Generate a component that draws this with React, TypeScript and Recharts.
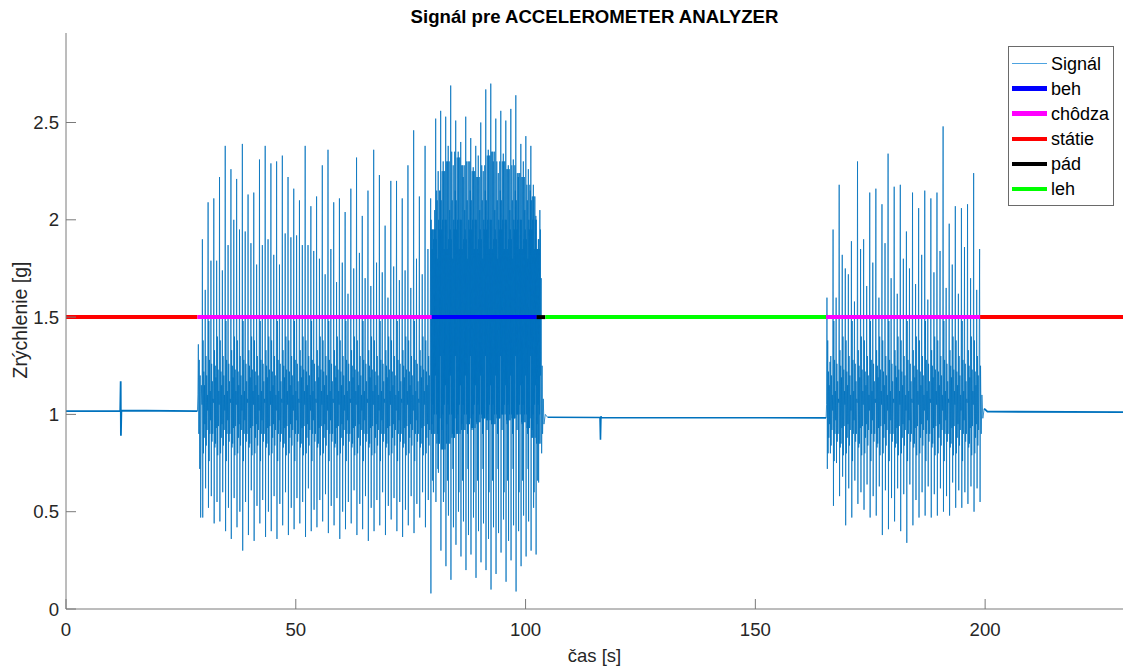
import React from "react";
import { LineChart, Line, XAxis, YAxis } from "recharts";

// ── Style ─────────────────────────────────────────────────────────────────────

const FONT = '"Liberation Sans", Arial, Helvetica, sans-serif';
const AXIS = "#7a7a7a";
const TEXT = "#262626";
const SIG = "#0072BD";

// ── Axes ──────────────────────────────────────────────────────────────────────

const X_TICKS = [0, 50, 100, 150, 200];
const Y_TICKS = [0, 0.5, 1, 1.5, 2, 2.5];
const X_MAX = 230;
const Y_MAX = 2.96;

// ── Signal ────────────────────────────────────────────────────────────────────

// quiet stretches and transitions, [time s, acceleration g]
const QUIET_START = [[0, 1.017], [11.8, 1.017], [11.9, 1.17], [11.95, 0.89], [12.05, 1.02], [28.6, 1.017]];
const WALK1_LEAD = [[28.6, 1.017], [28.7, 1.1], [28.8, 1.36], [28.9, 0.9], [29.0, 1.28], [29.1, 0.72], [29.2, 1.2], [29.3, 0.47], [29.45, 1.15]];
const RUN_DECAY = [[103.4, 1.7], [103.5, 0.8], [103.6, 1.25], [103.7, 0.9], [103.85, 1.08], [104.0, 0.95], [104.3, 1.0], [104.8, 0.985]];
const QUIET_MID = [[104.8, 0.985], [116.2, 0.984], [116.3, 0.87], [116.4, 0.99], [116.5, 0.984], [165.4, 0.982]];
const WALK2_LEAD = [[165.4, 0.982], [165.5, 1.05]];
const WALK2_DECAY = [[198.8, 1.85], [198.9, 0.55], [199.0, 1.25], [199.15, 0.9], [199.3, 1.1], [199.5, 0.98], [199.8, 1.03]];
const QUIET_END = [[199.8, 1.03], [200.5, 1.014], [230, 1.012]];

// first walk: one stride = big step + small step
const WALK1_START = 29.6;
const WALK1_STRIDE = 1.2425;
const WALK1_PEAK = [
  1.9, 2.09, 2.11, 2.22, 2.38, 2.26, 2.21, 2.39, 2.13, 2.14,
  2.31, 2.38, 2.29, 2.3, 2.33, 2.22, 2.16, 2.1, 2.38, 2.07,
  2.12, 2.28, 2.36, 2.09, 2.11, 2.04, 2.16, 2.32, 2.02, 2.15,
  2.36, 2.23, 1.97, 2.2, 2.2, 2.11, 2.28, 2.46, 2.12, 2.38,
];
const WALK1_PEAK2 = [
  1.64, 1.79, 1.79, 1.74, 1.87, 2.0, 1.95, 1.94, 1.88, 1.77,
  1.87, 1.9, 1.82, 1.77, 1.93, 1.91, 1.92, 1.87, 1.87, 1.84,
  1.8, 1.72, 1.85, 1.68, 1.78, 1.62, 1.75, 1.83, 1.7, 1.66,
  1.78, 1.73, 1.6, 1.76, 1.69, 1.74, 1.65, 1.8, 1.72, 1.85,
];
const WALK1_DIP = [
  0.47, 0.52, 0.44, 0.45, 0.4, 0.36, 0.42, 0.3, 0.38, 0.35,
  0.44, 0.37, 0.4, 0.36, 0.43, 0.38, 0.41, 0.44, 0.37, 0.4,
  0.42, 0.45, 0.39, 0.43, 0.36, 0.41, 0.44, 0.38, 0.41, 0.35,
  0.4, 0.43, 0.38, 0.46, 0.4, 0.37, 0.43, 0.39, 0.47, 0.42,
];
const WALK1_DIP2 = [
  0.62, 0.58, 0.55, 0.6, 0.52, 0.57, 0.5, 0.55, 0.61, 0.53,
  0.56, 0.5, 0.58, 0.54, 0.6, 0.52, 0.57, 0.55, 0.62, 0.51,
  0.56, 0.59, 0.53, 0.57, 0.5, 0.55, 0.61, 0.54, 0.58, 0.52,
  0.56, 0.6, 0.53, 0.57, 0.55, 0.51, 0.58, 0.54, 0.6, 0.56,
];

// run
const RUN_START = 79.35;
const RUN_STRIDE = 1.09;
const RUN_PEAK = [2.11, 2.52, 2.56, 2.53, 2.69, 2.51, 2.4, 2.53, 2.42, 2.38, 2.5, 2.67, 2.7, 2.52, 2.56, 2.51, 2.57, 2.64, 2.39, 2.43, 2.38, 2.02];
const RUN_PEAK2 = [1.95, 2.25, 2.3, 2.38, 2.28, 2.35, 2.22, 2.3, 2.27, 2.33, 2.25, 2.36, 2.3, 2.24, 2.34, 2.28, 2.31, 2.22, 2.3, 2.26, 2.18, 1.9];
const RUN_DIP = [0.08, 0.55, 0.3, 0.22, 0.15, 0.33, 0.27, 0.2, 0.28, 0.16, 0.24, 0.2, 0.1, 0.18, 0.29, 0.14, 0.25, 0.09, 0.22, 0.27, 0.3, 0.28];
const RUN_DIP2 = [0.6, 0.7, 0.55, 0.48, 0.42, 0.5, 0.45, 0.38, 0.47, 0.4, 0.44, 0.36, 0.42, 0.39, 0.46, 0.35, 0.43, 0.4, 0.48, 0.45, 0.52, 0.65];
const RUN_HI = [1.95, 2.15, 2.25, 2.3, 2.35, 2.32, 2.28, 2.3, 2.25, 2.22, 2.28, 2.33, 2.35, 2.3, 2.3, 2.26, 2.28, 2.24, 2.22, 2.18, 2.12, 1.85];
const RUN_LO = [0.9, 0.85, 0.82, 0.85, 0.88, 0.9, 0.92, 0.95, 0.93, 0.96, 0.98, 0.97, 0.95, 0.98, 1.0, 0.97, 0.98, 1.0, 0.96, 0.93, 0.88, 0.85];

// second walk
const WALK2_START = 165.5;
const WALK2_STRIDE = 1.33;
const WALK2_PEAK = [1.6, 1.95, 2.18, 1.75, 1.89, 2.3, 1.9, 2.14, 2.16, 2.08, 2.34, 2.17, 2.18, 1.94, 2.14, 2.06, 2.15, 2.11, 2.14, 2.48, 1.98, 2.07, 2.06, 2.08, 2.24];
const WALK2_PEAK2 = [1.27, 1.6, 1.82, 1.72, 1.58, 1.85, 1.66, 1.78, 1.6, 1.88, 1.7, 1.62, 1.8, 1.75, 1.67, 1.82, 1.59, 1.73, 1.84, 1.65, 1.77, 1.62, 1.86, 1.7, 1.64];
const WALK2_DIP = [0.72, 0.53, 0.58, 0.43, 0.47, 0.54, 0.51, 0.47, 0.48, 0.38, 0.41, 0.45, 0.4, 0.34, 0.43, 0.47, 0.48, 0.47, 0.48, 0.5, 0.48, 0.52, 0.52, 0.54, 0.5];
const WALK2_DIP2 = [0.8, 0.75, 0.68, 0.62, 0.66, 0.6, 0.64, 0.58, 0.63, 0.61, 0.57, 0.62, 0.59, 0.64, 0.56, 0.6, 0.63, 0.59, 0.62, 0.58, 0.65, 0.61, 0.6, 0.63, 0.62];

// sample order inside one stride; letters pick the per-stride values above
type Tok = number | "P" | "p" | "D" | "d" | "H" | "L";
const WALK_SHAPES: Tok[][] = [
  [1.05, "P", "D", 1.38, 0.8, 1.22, 0.88, 1.15, 0.95, "p", "d", 1.3, 0.84, 1.2, 0.92, 1.1],
  [1.02, "P", "D", 1.48, 0.76, 1.28, 0.9, 1.12, 0.97, "p", "d", 1.26, 0.86, 1.17, 0.9, 1.08],
  [1.06, "P", "D", 1.33, 0.83, 1.25, 0.85, 1.19, 0.93, "p", "d", 1.4, 0.79, 1.23, 0.94, 1.12],
];
const RUN_SHAPES: Tok[][] = [
  ["P", "D", 2.0, "L", "H", 0.95, 1.85, 0.66, "H", 1.05, "p", "d", 1.9, "L", "H", 1.0, 2.05, "L", 1.95, 1.2],
  ["P", "D", 1.9, 1.0, "H", "L", 2.1, 0.9, 1.8, 0.72, "p", "d", 2.0, "L", 1.95, "L", "H", 0.98, 2.15, 1.3],
  ["P", "D", 2.1, "L", 1.95, 0.92, "H", "L", 2.0, 1.0, "p", "d", "H", 0.6, 1.85, 1.05, "H", "L", 2.0, 1.15],
];

// ── State bar at 1.5 g ────────────────────────────────────────────────────────

const STATE_LEVEL = 1.5;
const STATES = [
  { name: "beh", color: "#0000ff" },
  { name: "chôdza", color: "#ff00ff" },
  { name: "státie", color: "#ff0000" },
  { name: "pád", color: "#000000" },
  { name: "leh", color: "#00ff00" },
];
const STATE_SPANS: [string, number, number][] = [
  ["státie", 0, 28.6],
  ["chôdza", 28.6, 79.6],
  ["beh", 79.6, 102.4],
  ["pád", 102.4, 104.3],
  ["leh", 104.3, 165.4],
  ["chôdza", 165.4, 198.9],
  ["státie", 198.9, 230],
];

// ── Build ─────────────────────────────────────────────────────────────────────

type Pt = { t: number; v: number };

const pairs = (arr: number[][]): Pt[] => arr.map(([t, v]) => ({ t, v }));

function strides(start: number, period: number, shapes: Tok[][], vals: Record<string, number[]>): Pt[] {
  const out: Pt[] = [];
  vals.P.forEach((_, i) => {
    const shape = shapes[i % shapes.length];
    shape.forEach((tok, k) => {
      const t = start + i * period + (k * period) / shape.length;
      out.push({ t: +t.toFixed(3), v: typeof tok === "number" ? tok : vals[tok][i] });
    });
  });
  return out;
}

// quiet stretches carry sensor noise, so MATLAB draws them a bit heavier
const pieces: { pts: Pt[]; w: number }[] = [
  { pts: pairs(QUIET_START), w: 1.8 },
  {
    pts: [
      ...pairs(WALK1_LEAD),
      ...strides(WALK1_START, WALK1_STRIDE, WALK_SHAPES, { P: WALK1_PEAK, p: WALK1_PEAK2, D: WALK1_DIP, d: WALK1_DIP2 }),
      ...strides(RUN_START, RUN_STRIDE, RUN_SHAPES, { P: RUN_PEAK, p: RUN_PEAK2, D: RUN_DIP, d: RUN_DIP2, H: RUN_HI, L: RUN_LO }),
      ...pairs(RUN_DECAY),
    ],
    w: 0.75,
  },
  { pts: pairs(QUIET_MID), w: 1.6 },
  {
    pts: [
      ...pairs(WALK2_LEAD),
      ...strides(WALK2_START, WALK2_STRIDE, WALK_SHAPES, { P: WALK2_PEAK, p: WALK2_PEAK2, D: WALK2_DIP, d: WALK2_DIP2 }),
      ...pairs(WALK2_DECAY),
    ],
    w: 0.75,
  },
  { pts: pairs(QUIET_END), w: 1.8 },
];

const stateColor = (n: string) => STATES.find((s) => s.name === n)?.color ?? "#000";

// ── Ticks (MATLAB style: inward, box on) ──────────────────────────────────────

const TICK_LEN = 10;
const LABEL = { fontFamily: FONT, fontSize: 18.6, fill: TEXT };

function BottomTick({ x, y, payload }: any) {
  return (
    <g>
      <line x1={x} x2={x} y1={y} y2={y - TICK_LEN} stroke={AXIS} />
      <text x={x} y={y + 20} textAnchor="middle" dominantBaseline="central" {...LABEL}>{payload.value}</text>
    </g>
  );
}
function TopTick({ x, y }: any) {
  return <line x1={x} x2={x} y1={y} y2={y + TICK_LEN} stroke={AXIS} />;
}
function LeftTick({ x, y, payload }: any) {
  return (
    <g>
      <line x1={x} x2={x + TICK_LEN} y1={y} y2={y} stroke={AXIS} />
      <text x={x - 7} y={y} textAnchor="end" dominantBaseline="central" {...LABEL}>{payload.value}</text>
    </g>
  );
}
function RightTick({ x, y }: any) {
  return <line x1={x} x2={x - TICK_LEN} y1={y} y2={y} stroke={AXIS} />;
}

// ── Legend ────────────────────────────────────────────────────────────────────

function LegendBox() {
  const rows = [{ name: "Signál", color: "#4da3e0", w: 1 }, ...STATES.map((s) => ({ ...s, w: 4.5 }))];
  return (
    <div
      style={{
        position: "absolute", left: 1008, top: 46, width: 104, height: 154,
        border: "1px solid #6a6a6a", background: "#fff", paddingTop: 4, boxSizing: "content-box",
      }}
    >
      {rows.map((r) => (
        <div key={r.name} style={{ display: "flex", alignItems: "center", height: 25.1 }}>
          <div style={{ width: 35, marginLeft: 3, height: r.w, background: r.color }} />
          <span style={{ marginLeft: 4, fontFamily: FONT, fontSize: 18, color: "#000", lineHeight: "20px" }}>{r.name}</span>
        </div>
      ))}
    </div>
  );
}

// ── Component ─────────────────────────────────────────────────────────────────

export default function App() {
  return (
    <div style={{ position: "absolute", left: 0, top: 0, width: 1124, height: 666, background: "#fff", overflow: "hidden" }}>
      <div style={{ position: "absolute", left: 66, width: 1057, top: 6, textAlign: "center", fontFamily: FONT, fontWeight: "bold", fontSize: 18.6, lineHeight: "22px", color: "#000" }}>
        Signál pre ACCELEROMETER ANALYZER
      </div>

      <LineChart width={1124} height={666} margin={{ top: 33, right: 1, bottom: 27, left: 16 }}>
        <XAxis
          dataKey="t" type="number" domain={[0, X_MAX]} ticks={X_TICKS} allowDataOverflow interval={0}
          height={30} tickSize={0} tickMargin={0} tickLine={false}
          axisLine={{ stroke: AXIS }} tick={BottomTick}
        />
        <XAxis
          xAxisId="top" orientation="top" dataKey="t" type="number" domain={[0, X_MAX]} ticks={X_TICKS}
          allowDataOverflow interval={0} height={0} tickSize={0} tickMargin={0} tickLine={false}
          axisLine={{ stroke: AXIS }} tick={TopTick}
        />
        <YAxis
          type="number" domain={[0, Y_MAX]} ticks={Y_TICKS} allowDataOverflow interval={0}
          width={50} tickSize={0} tickMargin={0} tickLine={false}
          axisLine={{ stroke: AXIS }} tick={LeftTick}
        />
        <YAxis
          yAxisId="right" orientation="right" type="number" domain={[0, Y_MAX]} ticks={Y_TICKS}
          allowDataOverflow interval={0} width={0} tickSize={0} tickMargin={0} tickLine={false}
          axisLine={{ stroke: AXIS }} tick={RightTick}
        />

        {pieces.map((p, i) => (
          <Line
            key={`sig${i}`}
            data={p.pts}
            dataKey="v"
            stroke={SIG}
            strokeWidth={p.w}
            dot={false}
            isAnimationActive={false}
          />
        ))}

        {STATE_SPANS.map(([name, from, to], i) => (
          <Line
            key={`st${i}`}
            data={[{ t: from, v: STATE_LEVEL }, { t: to, v: STATE_LEVEL }]}
            dataKey="v"
            stroke={stateColor(name)}
            strokeWidth={4}
            dot={false}
            isAnimationActive={false}
          />
        ))}
      </LineChart>

      <div style={{ position: "absolute", left: 66, width: 1057, top: 645, textAlign: "center", fontFamily: FONT, fontSize: 18.5, lineHeight: "22px", color: TEXT }}>
        čas [s]
      </div>
      <div
        style={{
          position: "absolute", left: 20, top: 320, transform: "translate(-50%, -50%) rotate(-90deg)",
          whiteSpace: "nowrap", fontFamily: FONT, fontSize: 19.5, color: TEXT,
        }}
      >
        Zrýchlenie [g]
      </div>

      <LegendBox />
    </div>
  );
}
